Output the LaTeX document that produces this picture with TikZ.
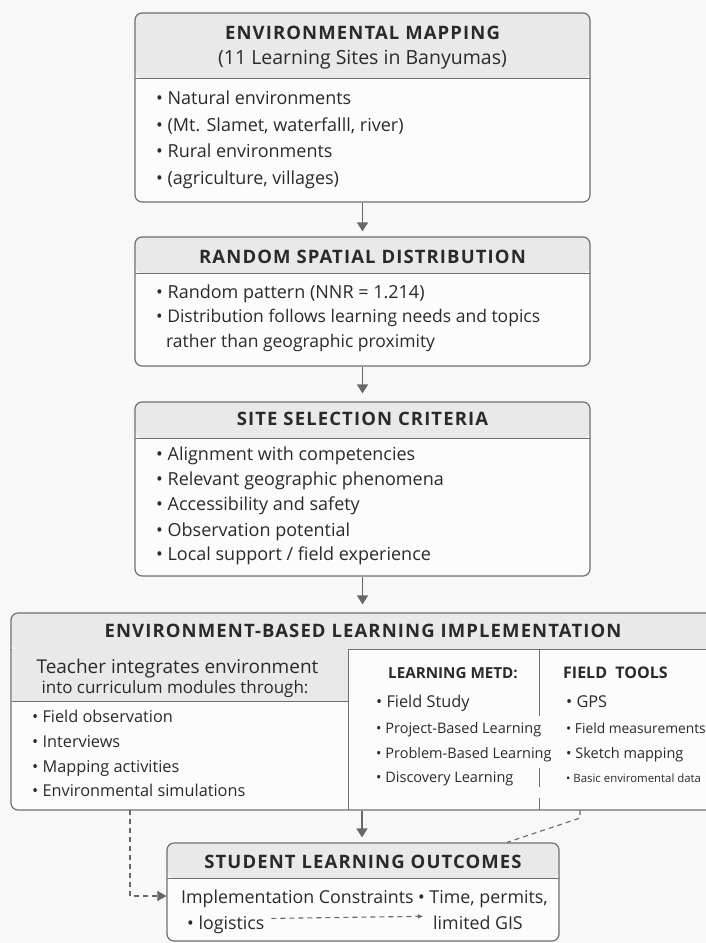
\documentclass[tikz,border=0pt]{standalone}
\usepackage{fontspec}
\setmainfont{Open Sans}
\usetikzlibrary{arrows.meta}
\definecolor{bgcol}{HTML}{F8F8F8}
\definecolor{bodycol}{HTML}{FCFCFC}
\definecolor{headcol}{HTML}{E9E9E9}
\definecolor{edgecol}{HTML}{6F6F6F}
\definecolor{inkcol}{HTML}{2A2A2A}
\definecolor{arrcol}{HTML}{686868}

\begin{document}
\begin{tikzpicture} [x=1pt,y=-1pt,
            panel/.style={draw=edgecol,line width=1.2pt,rounded corners=7pt,fill=bodycol,inner sep=0pt,
              path picture={\fill[headcol] (path picture bounding box.north west) rectangle ([yshift=-#1]path picture bounding box.north east);
                \draw[edgecol,line width=0.8pt] ([yshift=-#1]path picture bounding box.north west) -- ([yshift=-#1]path picture bounding box.north east);}},
            ttl/.style={anchor=base,inner sep=0pt,text=inkcol,font=\bfseries\fontsize{18.5}{20}\selectfont\addfontfeature{LetterSpace=6}},
            txt/.style={anchor=base west,inner sep=0pt,text=inkcol,font=\fontsize{18}{20}\selectfont},
            sml/.style={txt,font=\fontsize{16.3}{18}\selectfont},
            tny/.style={txt,font=\fontsize{14.5}{17}\selectfont},
            sep/.style={edgecol,line width=0.8pt},
            flow/.style={arrcol,line width=1.4pt,-{Triangle[width=11pt,length=9pt]}},
            dashflow/.style={arrcol,line width=1.1pt,dashed,dash pattern=on 5pt off 4pt}]
\fill[bgcol] (0,0) rectangle (706,943);
\clip (0,0) rectangle (706,943);

% boxes
\node (map) at (362.5,107.5) [panel=65pt,minimum width=455pt,minimum height=189pt] {};
\node (dist) at (362.5,301.5) [panel=36pt,minimum width=455pt,minimum height=129pt] {};
\node (crit) at (362.5,489) [panel=36pt,minimum width=455pt,minimum height=174pt] {};
\node (impl) at (363,711.5) [panel=36pt,minimum width=704pt,minimum height=197pt] {};
\node (outc) at (363,892) [panel=35pt,minimum width=392pt,minimum height=98pt] {};

% inner panels of the implementation box
\fill[headcol] (11.6,649.4) rectangle (348,701);
\draw[sep] (11.6,701) -- (348,701);
\draw[sep] (348,649) -- (348,810);
\draw[sep] (539,649) -- (539,716);
\draw[sep] (539,768) -- (539,787);
\draw[sep] (539,798) -- (539,810);

% mapping
\node (mapT) at (362.5,39) [ttl] {ENVIRONMENTAL MAPPING}
node (mapS) at (362.5,64) [ttl,font=\fontsize{19.5}{20}\selectfont] {(11 Learning Sites in Banyumas)}
node (map1) at (156,104) [txt] {• Natural environments}
node (map2) at (156,131) [txt] {• (Mt. Slamet, waterfalll, river)}
node (map3) at (156,157) [txt] {• Rural environments}
node (map4) at (156,184) [txt] {• (agriculture, villages)};

% distribution
\node (distT) at (362.5,263) [ttl] {RANDOM SPATIAL DISTRIBUTION}
node (dist1) at (156,298) [txt] {• Random pattern (NNR = 1.214)}
node (dist2) at (156,322) [txt,font=\fontsize{17.5}{20}\selectfont] {• Distribution follows learning needs and topics}
node (dist3) at (166,347) [txt,font=\fontsize{17.5}{20}\selectfont] {rather than geographic proximity};

% criteria
\node (critT) at (362.5,425) [ttl] {SITE SELECTION CRITERIA}
node (crit1) at (156,460) [txt] {• Alignment with competencies}
node (crit2) at (156,485) [txt] {• Relevant geographic phenomena}
node (crit3) at (156,510) [txt] {• Accessibility and safety}
node (crit4) at (156,536) [txt] {• Observation potential}
node (crit5) at (156,560) [txt] {• Local support / field experience};

% implementation
\node (implT) at (363,637) [ttl] {ENVIRONMENT-BASED LEARNING IMPLEMENTATION}
node (teach1) at (177.5,673) [ttl,font=\fontsize{19}{20}\selectfont] {Teacher integrates environment}
node (teach2) at (175,693) [ttl,font=\fontsize{17}{18}\selectfont] {into curriculum modules through:}
node (act1) at (32,722) [sml] {• Field observation}
node (act2) at (32,747) [sml] {• Interviews}
node (act3) at (32,772) [sml] {• Mapping activities}
node (act4) at (32,796) [sml] {• Environmental simulations};

\node (methT) at (388,678) [txt,font=\bfseries\fontsize{15.2}{18}\selectfont] {LEARNING METD:}
node (meth1) at (376,707) [sml] {• Field Study}
node (meth2) at (376,733) [tny] {• Project-Based Learning}
node (meth3) at (376,758) [tny] {• Problem-Based Learning}
node (meth4) at (376,782) [tny] {• Discovery Learning};

\node (toolT) at (563,678) [txt,font=\bfseries\fontsize{16}{18}\selectfont] {FIELD\ \ TOOLS}
node (tool1) at (566,707) [sml] {• GPS}
node (tool2) at (566,733) [tny,font=\fontsize{13.8}{17}\selectfont] {• Field measurements}
node (tool3) at (566,758) [tny] {• Sketch mapping}
node (tool4) at (566,782) [txt,font=\fontsize{11.4}{14}\selectfont] {• Basic enviromental data};

% outcomes
\node (outcT) at (363,868) [ttl] {STUDENT LEARNING OUTCOMES}
node (cons) at (181,903) [txt,font=\fontsize{17.8}{20}\selectfont] {Implementation Constraints • Time, permits,}
node (logi) at (187,929) [txt,font=\fontsize{17.8}{20}\selectfont] {• logistics}
node (gis) at (433,929) [txt,font=\fontsize{17.8}{20}\selectfont] {limited GIS};

% connectors
\coordinate (lft) at (130,810);
\coordinate (rgt) at (580,810);
\draw[flow,shorten >=5pt] (map) -- (dist);
\draw[flow,shorten >=8pt] (dist) -- (crit);
\draw[flow,shorten >=8pt] (crit.south) -- (impl.north -| crit.south);
\draw[flow,shorten >=5pt] (impl.south -| 362,0) -- (outc.north -| 362,0);
\draw[dashflow,-{Triangle[width=10pt,length=9pt]}] (lft) |- ([yshift=-4pt]outc.west);
\draw[dashflow] (rgt) -- ++(0,8) -- ([xshift=144pt]outc.north);
\draw[dashflow,-{Latex[width=5pt,length=5pt]}] ([xshift=7pt,yshift=6pt]logi.east) -- ([xshift=-10pt,yshift=6pt]gis.west);
\end{tikzpicture}
\end{document}
